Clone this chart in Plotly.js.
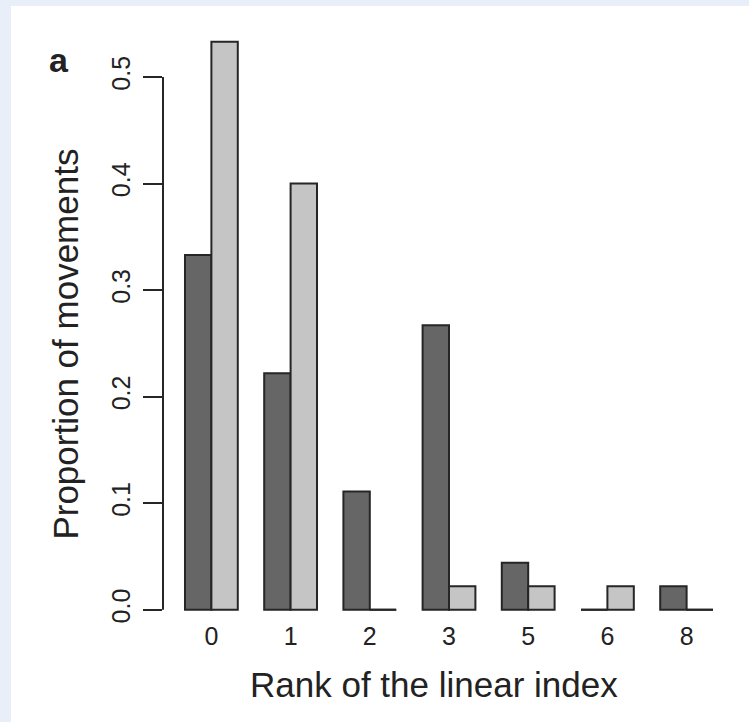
<!DOCTYPE html>
<html>
<head>
<meta charset="utf-8">
<script src="https://cdn.plot.ly/plotly-3.0.1.min.js"></script>
<style>
html,body{margin:0;padding:0;background:#e8eff8;}
#wrap{position:absolute;left:0;top:0;width:749px;height:722px;background:#e8eff8;}
#chart{position:absolute;left:11px;top:6px;width:738px;height:716px;}
</style>
</head>
<body>
<div id="wrap"><div id="chart"></div></div>
<script>
// Data
const categories = ['0', '1', '2', '3', '5', '6', '8'];
const seriesDark = [0.333, 0.222, 0.111, 0.267, 0.044, 0.0, 0.022];
const seriesLight = [0.533, 0.400, 0.0, 0.022, 0.022, 0.022, 0.0];
const yTicks = [0.0, 0.1, 0.2, 0.3, 0.4, 0.5];
const yTickLabels = ['0.0', '0.1', '0.2', '0.3', '0.4', '0.5'];

const outline = '#262626';
const darkFill = '#666666';
const lightFill = '#c4c5c4';
const fontFam = 'Liberation Sans, Arial, Helvetica, sans-serif';

const traces = [
  {type: 'bar', x: categories, y: seriesDark, name: 'a',
   marker: {color: darkFill, line: {color: outline, width: 2}}, hoverinfo: 'none'},
  {type: 'bar', x: categories, y: seriesLight, name: 'b',
   marker: {color: lightFill, line: {color: outline, width: 2}}, hoverinfo: 'none'}
];

// zero-height bars drawn as flat baseline segments (as R does)
const shapes = [];
const half = 1/3; // each bar occupies 1/3 of a category slot (bargap 1/3)
seriesDark.forEach((v, i) => {
  if (v === 0) shapes.push({type: 'line', xref: 'x', yref: 'y', x0: i - half, x1: i, y0: 0, y1: 0,
    line: {color: outline, width: 2}});
});
seriesLight.forEach((v, i) => {
  if (v === 0) shapes.push({type: 'line', xref: 'x', yref: 'y', x0: i, x1: i + half, y0: 0, y1: 0,
    line: {color: outline, width: 2}});
});
// y axis line spanning tick range only
shapes.push({type: 'line', xref: 'paper', yref: 'y', x0: 0, x1: 0,
  y0: yTicks[0], y1: yTicks[yTicks.length - 1], line: {color: outline, width: 2}});

const layout = {
  width: 738, height: 716,
  paper_bgcolor: '#ffffff', plot_bgcolor: '#ffffff',
  margin: {l: 152, r: 14, t: 22, b: 108},
  barmode: 'group', bargap: 1/3, bargroupgap: 0,
  showlegend: false,
  font: {family: fontFam, color: '#222222'},
  xaxis: {
    type: 'category', range: [-0.611, 6.611],
    showline: false, showgrid: false, zeroline: false, ticks: '',
    tickfont: {size: 25, family: fontFam, color: '#222222'},
    ticklabelstandoff: 5
  },
  yaxis: {
    range: [-0.004, 0.546],
    showline: false, showgrid: false, zeroline: false,
    tickvals: yTicks, ticktext: yTickLabels,
    ticks: 'outside', ticklen: 19, tickwidth: 2, tickcolor: outline,
    tickangle: -90, ticklabelstandoff: 3,
    tickfont: {size: 25, family: fontFam, color: '#222222'}
  },
  shapes: shapes,
  annotations: [
    {text: 'Proportion of movements', xref: 'paper', yref: 'paper', x: -0.170, y: 0.461,
     xanchor: 'center', yanchor: 'middle', showarrow: false, textangle: -90,
     font: {size: 35, family: fontFam, color: '#222222'}},
    {text: 'Rank of the linear index', xref: 'paper', yref: 'paper', x: 0.473, y: -0.121,
     xanchor: 'center', yanchor: 'middle', showarrow: false,
     font: {size: 35, family: fontFam, color: '#222222'}},
    {text: '<b>a</b>', xref: 'paper', yref: 'paper', x: -0.182, y: 0.945,
     xanchor: 'center', yanchor: 'middle', showarrow: false,
     font: {size: 34, family: fontFam, color: '#222222'}}
  ]
};

Plotly.newPlot('chart', traces, layout, {staticPlot: true, displayModeBar: false});
</script>
</body>
</html>
